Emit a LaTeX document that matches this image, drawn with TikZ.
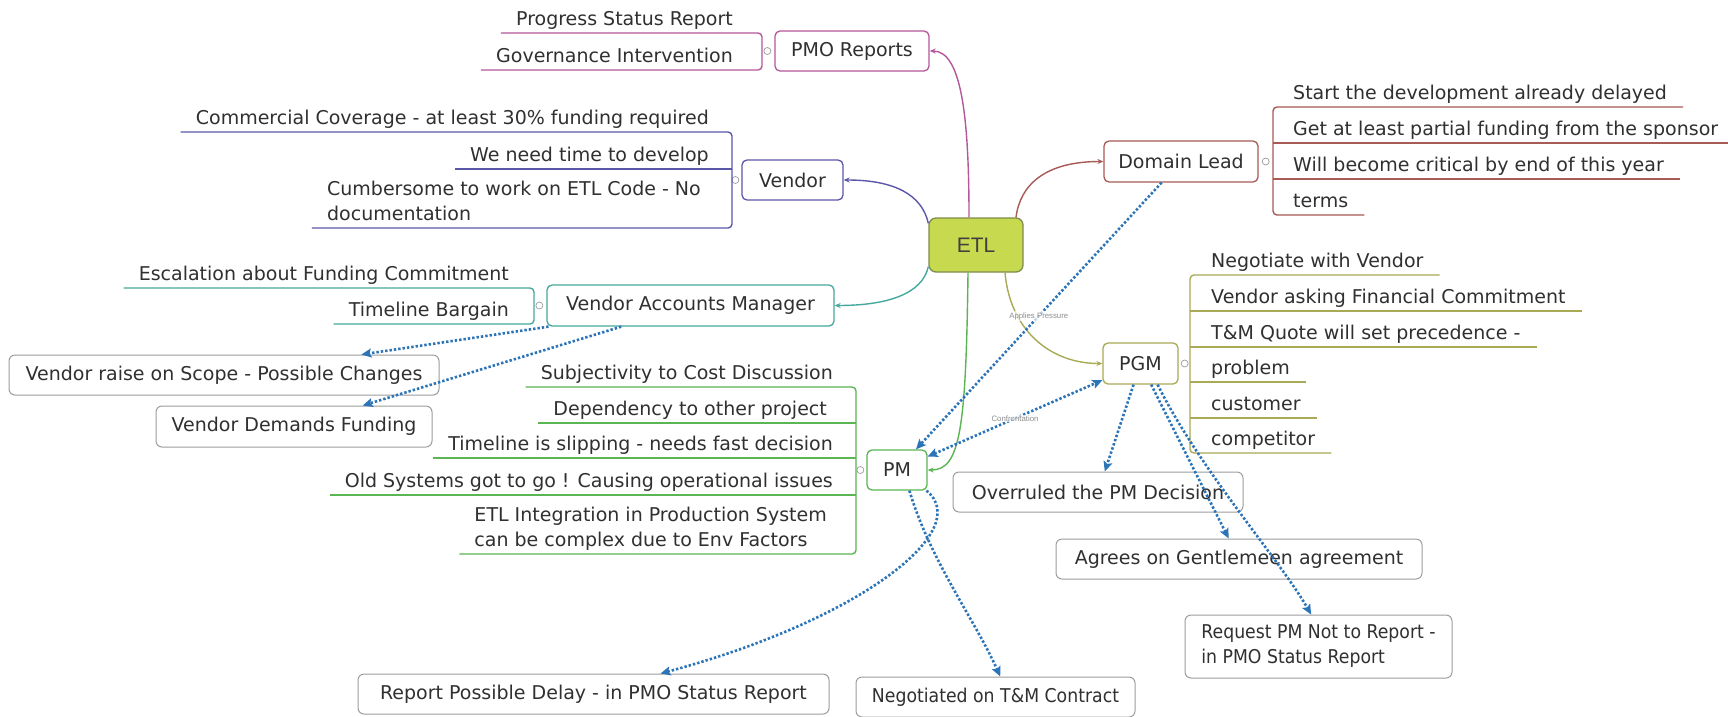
\documentclass[tikz,border=0pt]{standalone}
\usepackage{fontspec}
\setmainfont{DejaVu Sans}
\newfontfamily\etlfont{Liberation Sans}
\newfontfamily\condfont[FakeStretch=0.91]{DejaVu Sans}
\usetikzlibrary{arrows.meta}

\definecolor{cpmo}{HTML}{B4579B}
\definecolor{cven}{HTML}{5B57A8}
\definecolor{cvam}{HTML}{45A89E}
\definecolor{cpm}{HTML}{5AB552}
\definecolor{cpgm}{HTML}{A8AA55}
\definecolor{cdl}{HTML}{A85A57}
\definecolor{cetl}{HTML}{C7D94E}
\definecolor{cetlb}{HTML}{7E8C4E}
\definecolor{etltxt}{HTML}{404040}
\definecolor{crel}{HTML}{2C74B8}
\definecolor{ink}{HTML}{303030}
\definecolor{cbox}{HTML}{9C9C9C}
\definecolor{clab}{HTML}{8E8E8E}

\newcommand\mmtext{\fontsize{19}{25}\selectfont}
\newcommand\mmcond{\condfont\fontsize{19}{25}\selectfont}
\newcommand\mmsmall{\etlfont\fontsize{7.8}{9}\selectfont}

\begin{document}
\begin{tikzpicture}[x=1pt,y=-1pt,
  every node/.style={text=ink},
  topic/.style={draw, line width=1.3pt, rounded corners=5pt, fill=white, inner sep=0pt, font=\mmtext},
  floatbox/.style={draw=cbox, line width=1pt, rounded corners=6pt, fill=white, inner sep=0pt, align=left, font=\mmtext},
  lleaf/.style={anchor=base east, inner xsep=15pt, inner ysep=0pt, font=\mmtext},
  rleaf/.style={anchor=base west, inner xsep=16pt, inner ysep=0pt, font=\mmtext},
  fold/.style={circle, draw=cbox, line width=0.7pt, minimum size=7pt, inner sep=0pt, fill=white},
  branch/.style={line width=1.4pt, -{Stealth[length=6pt,width=5pt]}},
  uline/.style={line width=1.4pt, rounded corners=4pt},
  rel/.style={draw=crel, line width=2.6pt, dash pattern=on 2.4pt off 2pt, -{Stealth[length=10pt,width=9pt,inset=2pt]}},
  relboth/.style={rel, {Stealth[length=10pt,width=9pt,inset=2pt]}-{Stealth[length=10pt,width=9pt,inset=2pt]}},
  rellabel/.style={font=\mmsmall, text=clab, fill=white, fill opacity=0.7, text opacity=1, inner sep=1pt}
]
\fill[white] (0,0) rectangle (1728,716);
\useasboundingbox (0,0) rectangle (1728,716);

% central topic and main topics
\node[topic, draw=cetlb, fill=cetl, minimum width=94pt, minimum height=54pt, rounded corners=7pt,
      font=\etlfont\fontsize{21}{24}\selectfont, text=etltxt] (etl) at (976,245) {ETL};
\node[topic, draw=cpmo, minimum width=154pt, minimum height=40pt] (pmo) at (852,51) {PMO Reports};
\node[topic, draw=cven, minimum width=101pt, minimum height=40pt] (ven) at (792.5,180) {Vendor};
\node[topic, draw=cvam, minimum width=287pt, minimum height=41pt] (vam) at (690.5,305.5) {Vendor Accounts Manager};
\node[topic, draw=cpm, minimum width=60pt, minimum height=40pt] (pm) at (897,470) {PM};
\node[topic, draw=cdl, minimum width=154pt, minimum height=41pt] (dl) at (1181,161.5) {Domain Lead};
\node[topic, draw=cpgm, minimum width=75pt, minimum height=41pt] (pgm) at (1140.5,363.5) {PGM};

% fold markers
\node[fold] (pmof) at ([xshift=-7pt]pmo.west) {};
\node[fold] (venf) at ([xshift=-6pt]ven.west) {};
\node[fold] (vamf) at ([xshift=-7pt]vam.west) {};
\node[fold] (pmf) at ([xshift=-6pt]pm.west) {};
\node[fold] (dlf) at ([xshift=7pt]dl.east) {};
\node[fold] (pgmf) at ([xshift=6pt]pgm.east) {};

% floating topics
\node[floatbox, minimum width=430pt, minimum height=40pt] (vrs) at (224,375) {Vendor raise on Scope - Possible Changes};
\node[floatbox, minimum width=276pt, minimum height=41pt] (vdf) at (294,426.5) {Vendor Demands Funding};
\node[floatbox, minimum width=290pt, minimum height=40pt] (ov) at (1098,492) {Overruled the PM Decision};
\node[floatbox, minimum width=366pt, minimum height=40pt] (ag) at (1239,559) {Agrees on Gentlemeen agreement};
\node[floatbox, font=\mmcond, minimum width=267pt, minimum height=63pt] (rq) at (1318.5,646.5) {Request PM Not to Report -\\in PMO Status Report};
\node[floatbox, minimum width=471pt, minimum height=40pt] (rpd) at (593.5,694) {Report Possible Delay - in PMO Status Report};
\node[floatbox, font=\mmcond, minimum width=279pt, minimum height=40pt] (neg) at (995.5,697) {Negotiated on T\&M Contract};

% PMO Reports subtopics
\node[lleaf] (p1) at (748,25) {Progress Status Report};
\node[lleaf] (p2) at (748,62) {Governance Intervention};
\draw[uline, cpmo] (p1.west |- 0,33) -- (762,33) -- (762,70) -- (p2.west |- 0,70);

% Vendor subtopics
\node[lleaf] (v1) at (724,124) {Commercial Coverage - at least 30\% funding required};
\node[lleaf] (v2) at (724,161) {We need time to develop};
\node[lleaf] (v3a) at (716,195) {Cumbersome to work on ETL Code - No};
\node[rleaf, inner xsep=15pt] (v3b) at (v3a.base west |- 0,220) {documentation};
\draw[uline, cven] (v1.west |- 0,132) -- (732,132) -- (732,228) -- (v3a.west |- 0,228);
\draw[uline, cven] (v2.west |- 0,169) -- (732,169);

% Vendor Accounts Manager subtopics
\node[lleaf] (a1) at (524,280) {Escalation about Funding Commitment};
\node[lleaf] (a2) at (524,316) {Timeline Bargain};
\draw[uline, cvam] (a1.west |- 0,288) -- (534,288) -- (534,324) -- (a2.west |- 0,324);

% PM subtopics
\node[lleaf] (m1) at (848,379) {Subjectivity to Cost Discussion};
\node[lleaf] (m2) at (842,415) {Dependency to other project};
\node[lleaf] (m3) at (848,450) {Timeline is slipping - needs fast decision};
\node[lleaf] (m4) at (848,487) {Old Systems got to go ! Causing operational issues};
\node[lleaf] (m5a) at (842,521) {ETL Integration in Production System};
\node[rleaf, inner xsep=15pt] (m5b) at (m5a.base west |- 0,546) {can be complex due to Env Factors};
\draw[uline, cpm] (m1.west |- 0,387) -- (856,387) -- (856,554) -- (m5a.west |- 0,554);
\draw[uline, cpm] (m2.west |- 0,423) -- (856,423);
\draw[uline, cpm] (m3.west |- 0,458) -- (856,458);
\draw[uline, cpm] (m4.west |- 0,495) -- (856,495);

% Domain Lead subtopics
\node[rleaf] (d1) at (1277,99) {Start the development already delayed};
\node[rleaf] (d2) at (1277,135) {Get at least partial funding from the sponsor};
\node[rleaf] (d3) at (1277,171) {Will become critical by end of this year};
\node[rleaf] (d4) at (1277,207) {terms};
\draw[uline, cdl] (d1.east |- 0,107) -- (1273,107) -- (1273,215) -- (d4.east |- 0,215);
\draw[uline, cdl] (1273,143) -- (d2.east |- 0,143);
\draw[uline, cdl] (1273,179) -- (d3.east |- 0,179);

% PGM subtopics
\node[rleaf] (g1) at (1195,267) {Negotiate with Vendor};
\node[rleaf] (g2) at (1195,303) {Vendor asking Financial Commitment};
\node[rleaf] (g3) at (1195,339) {T\&M Quote will set precedence -};
\node[rleaf] (g4) at (1195,374) {problem};
\node[rleaf] (g5) at (1195,410) {customer};
\node[rleaf] (g6) at (1195,445) {competitor};
\draw[uline, cpgm] (g1.east |- 0,275) -- (1190,275) -- (1190,453) -- (g6.east |- 0,453);
\draw[uline, cpgm] (1190,311) -- (g2.east |- 0,311);
\draw[uline, cpgm] (1190,347) -- (g3.east |- 0,347);
\draw[uline, cpgm] (1190,382) -- (g4.east |- 0,382);
\draw[uline, cpgm] (1190,418) -- (g5.east |- 0,418);

% branches from the central topic
\draw[branch, cpmo] ([xshift=-7pt]etl.north) .. controls (969,120) and (962,51) .. (pmo.east);
\draw[branch, cdl] ([xshift=40pt]etl.north) .. controls (1020,185) and (1045,161.5) .. (dl.west);
\draw[branch, cven] ([yshift=-6pt]etl.north west) .. controls (922,195) and (895,180) .. (ven.east);
\draw[branch, cvam] ([yshift=6pt]etl.south west) .. controls (922,295) and (885,305.5) .. (vam.east);
\draw[branch, cpm] ([xshift=-8pt]etl.south) .. controls (966,430) and (960,470) .. (pm.east);
\draw[branch, cpgm] ([xshift=29pt]etl.south) .. controls (1010,330) and (1050,363.5) .. (pgm.west);

% relationships
\draw[rel] (dl) -- node[rellabel] {Applies Pressure} (pm);
\draw[relboth] (pm) -- node[rellabel] {Confrontation} (pgm);
\draw[rel] (pgm) -- (ov);
\draw[rel] (pgm) -- (ag);
\draw[rel] (pgm.-51) .. controls (1200,470) and (1280,560) .. (rq.103);
\draw[rel] (vam) -- (vrs);
\draw[rel] (vam) -- (vdf);
\draw[rel] (pm.-35) .. controls (975,530) and (860,620) .. (rpd.17.5);
\draw[rel] (pm.-59) .. controls (930,560) and (975,620) .. (neg.77);
\end{tikzpicture}
\end{document}
